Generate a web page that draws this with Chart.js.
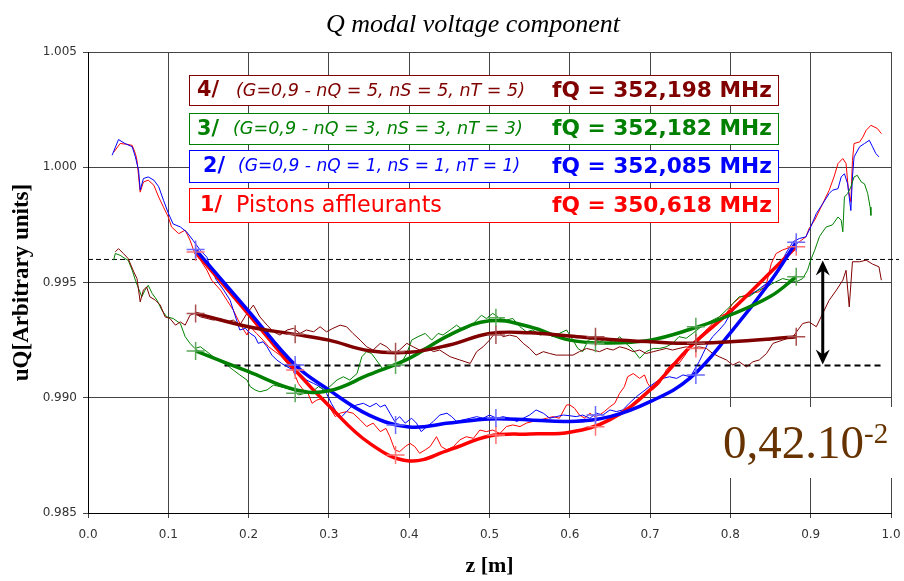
<!DOCTYPE html>
<html>
<head>
<meta charset="utf-8">
<script src="https://cdn.jsdelivr.net/npm/chart.js@4.4.0/dist/chart.umd.min.js"></script>
<style>
  html, body { margin: 0; padding: 0; background: #fff; }
  #wrap { width: 904px; height: 581px; }
</style>
</head>
<body>
<div id="wrap"><canvas id="modalChart" width="904" height="581"></canvas></div>
<script>
// --- Axes ---
const X_TICKS = [0, 0.1, 0.2, 0.3, 0.4, 0.5, 0.6, 0.7, 0.8, 0.9, 1.0];
const Y_TICKS = [0.985, 0.990, 0.995, 1.000, 1.005];

// --- Legend texts (top to bottom) ---
const CASE_TAGS = ["4/", "3/", "2/", "1/"];
const CASE_PARAMS = [
    "(G=0,9 - nQ = 5, nS = 5, nT = 5)",
    "(G=0,9 - nQ = 3, nS = 3, nT = 3)",
    "(G=0,9 - nQ = 1, nS = 1, nT = 1)",
    "Pistons affleurants",
];
const CASE_FREQS = ["fQ = 352,198 MHz", "fQ = 352,182 MHz", "fQ = 352,085 MHz", "fQ = 350,618 MHz"];
const CASE_COLORS = ["#800000", "#008000", "#0000ff", "#ff0000"];
const MARK_COLORS = ["#a85050", "#5aa85a", "#6a6aff", "#ff7272"];

// --- Measured profiles [z, uQ] ---
const meas1 = [[0.032,1.00065],[0.040,1.00103],[0.048,1.00100],[0.055,1.00095],[0.059,1.00060],[0.061,1.00030],[0.065,0.99892],[0.069,0.99936],[0.075,0.99944],[0.082,0.99922],[0.088,0.99871],[0.094,0.99827],[0.100,0.99784],[0.104,0.99741],[0.113,0.99712],[0.121,0.99727],[0.127,0.99684],[0.133,0.99626],[0.140,0.99597],[0.148,0.99554],[0.154,0.99510],[0.165,0.99467],[0.173,0.99423],[0.181,0.99380],[0.187,0.99337],[0.194,0.99294],[0.198,0.99272],[0.202,0.99308],[0.210,0.99279],[0.218,0.99250],[0.225,0.99221],[0.233,0.99200],[0.239,0.99185],[0.248,0.99149],[0.256,0.99113],[0.262,0.99062],[0.268,0.99034],[0.274,0.99019],[0.279,0.98976],[0.285,0.98990],[0.293,0.98998],[0.299,0.98969],[0.308,0.98918],[0.314,0.98933],[0.322,0.98940],[0.330,0.98933],[0.339,0.98904],[0.347,0.98875],[0.355,0.98890],[0.364,0.98853],[0.371,0.98867],[0.376,0.98831],[0.382,0.98774],[0.388,0.98766],[0.395,0.98788],[0.401,0.98802],[0.407,0.98788],[0.413,0.98759],[0.420,0.98774],[0.426,0.98788],[0.434,0.98831],[0.440,0.98788],[0.447,0.98774],[0.455,0.98788],[0.463,0.98817],[0.471,0.98831],[0.480,0.98824],[0.488,0.98860],[0.496,0.98853],[0.504,0.98860],[0.513,0.98845],[0.521,0.98875],[0.529,0.98882],[0.538,0.98875],[0.546,0.98890],[0.554,0.98897],[0.563,0.98904],[0.571,0.98911],[0.579,0.98918],[0.587,0.98911],[0.596,0.98969],[0.600,0.98969],[0.606,0.98954],[0.612,0.98925],[0.619,0.98911],[0.625,0.98933],[0.631,0.98918],[0.637,0.98925],[0.643,0.98940],[0.650,0.98961],[0.656,0.98976],[0.662,0.99019],[0.668,0.99048],[0.672,0.99091],[0.679,0.99105],[0.687,0.99084],[0.693,0.99099],[0.697,0.99062],[0.703,0.99034],[0.712,0.99062],[0.720,0.99120],[0.728,0.99149],[0.736,0.99149],[0.745,0.99192],[0.753,0.99236],[0.761,0.99265],[0.770,0.99294],[0.778,0.99322],[0.786,0.99351],[0.795,0.99366],[0.803,0.99409],[0.813,0.99438],[0.824,0.99452],[0.836,0.99460],[0.845,0.99496],[0.851,0.99583],[0.857,0.99626],[0.865,0.99641],[0.876,0.99655],[0.886,0.99677],[0.894,0.99698],[0.898,0.99734],[0.905,0.99771],[0.911,0.99814],[0.917,0.99857],[0.923,0.99900],[0.929,0.99958],[0.934,1.00016],[0.940,1.00038],[0.944,1.00016],[0.947,0.99900],[0.950,0.99850],[0.952,1.00030],[0.954,1.00103],[0.961,1.00110],[0.965,1.00131],[0.969,1.00160],[0.975,1.00182],[0.979,1.00175],[0.983,1.00168],[0.988,1.00146]];

const meas2 = [[0.030,1.00052],[0.038,1.00120],[0.046,1.00103],[0.055,1.00089],[0.059,1.00045],[0.063,0.99987],[0.065,0.99901],[0.069,0.99951],[0.075,0.99958],[0.082,0.99944],[0.088,0.99916],[0.094,0.99857],[0.100,0.99801],[0.106,0.99754],[0.115,0.99741],[0.123,0.99719],[0.131,0.99682],[0.140,0.99639],[0.148,0.99610],[0.152,0.99567],[0.160,0.99510],[0.169,0.99467],[0.177,0.99423],[0.181,0.99380],[0.185,0.99337],[0.189,0.99294],[0.196,0.99301],[0.202,0.99279],[0.208,0.99265],[0.212,0.99236],[0.218,0.99243],[0.223,0.99221],[0.229,0.99185],[0.235,0.99164],[0.241,0.99149],[0.248,0.99134],[0.256,0.99120],[0.264,0.99105],[0.272,0.99077],[0.281,0.99062],[0.289,0.99048],[0.297,0.99019],[0.303,0.98976],[0.310,0.98933],[0.316,0.98918],[0.322,0.98940],[0.328,0.98961],[0.335,0.98969],[0.343,0.98976],[0.351,0.98961],[0.359,0.98976],[0.364,0.98960],[0.370,0.98969],[0.376,0.98933],[0.382,0.98897],[0.388,0.98918],[0.395,0.98890],[0.403,0.98911],[0.409,0.98890],[0.415,0.98853],[0.422,0.98875],[0.430,0.98897],[0.438,0.98925],[0.447,0.98933],[0.453,0.98918],[0.459,0.98897],[0.467,0.98904],[0.476,0.98911],[0.484,0.98918],[0.492,0.98911],[0.500,0.98925],[0.509,0.98911],[0.517,0.98918],[0.525,0.98911],[0.534,0.98897],[0.542,0.98911],[0.550,0.98925],[0.558,0.98947],[0.567,0.98933],[0.575,0.98911],[0.583,0.98918],[0.592,0.98925],[0.600,0.98922],[0.608,0.98918],[0.616,0.98925],[0.625,0.98911],[0.633,0.98933],[0.641,0.98925],[0.650,0.98947],[0.658,0.98940],[0.666,0.98947],[0.674,0.98976],[0.683,0.99005],[0.691,0.99026],[0.699,0.99048],[0.708,0.99070],[0.716,0.99084],[0.724,0.99091],[0.733,0.99084],[0.741,0.99099],[0.750,0.99091],[0.755,0.99120],[0.761,0.99156],[0.766,0.99192],[0.772,0.99236],[0.778,0.99265],[0.786,0.99294],[0.793,0.99322],[0.799,0.99358],[0.807,0.99394],[0.815,0.99423],[0.824,0.99445],[0.834,0.99467],[0.845,0.99496],[0.853,0.99524],[0.861,0.99567],[0.869,0.99626],[0.878,0.99677],[0.886,0.99691],[0.894,0.99698],[0.900,0.99741],[0.907,0.99799],[0.915,0.99842],[0.923,0.99886],[0.927,0.99900],[0.934,0.99907],[0.938,0.99958],[0.942,0.99972],[0.946,0.99928],[0.950,0.99812],[0.952,0.99958],[0.954,1.00045],[0.961,1.00089],[0.967,1.00103],[0.973,1.00117],[0.977,1.00089],[0.981,1.00060],[0.985,1.00045]];

const meas3 = [[0.032,0.99597],[0.034,0.99626],[0.040,0.99618],[0.046,0.99604],[0.050,0.99597],[0.055,0.99554],[0.059,0.99510],[0.063,0.99474],[0.067,0.99438],[0.071,0.99467],[0.075,0.99488],[0.080,0.99452],[0.086,0.99423],[0.092,0.99380],[0.098,0.99351],[0.106,0.99344],[0.115,0.99322],[0.121,0.99265],[0.127,0.99236],[0.133,0.99214],[0.140,0.99221],[0.148,0.99200],[0.156,0.99178],[0.165,0.99156],[0.173,0.99142],[0.181,0.99120],[0.189,0.99099],[0.198,0.99077],[0.202,0.99048],[0.208,0.99034],[0.214,0.99026],[0.223,0.99034],[0.231,0.99055],[0.239,0.99048],[0.248,0.99041],[0.256,0.99034],[0.262,0.99012],[0.270,0.99019],[0.279,0.99026],[0.287,0.99048],[0.295,0.99034],[0.301,0.99048],[0.310,0.99077],[0.318,0.99091],[0.326,0.99077],[0.335,0.99105],[0.341,0.99178],[0.347,0.99200],[0.353,0.99192],[0.359,0.99164],[0.368,0.99120],[0.376,0.99134],[0.384,0.99149],[0.391,0.99156],[0.397,0.99192],[0.403,0.99250],[0.411,0.99265],[0.420,0.99279],[0.428,0.99250],[0.436,0.99279],[0.442,0.99272],[0.451,0.99294],[0.459,0.99315],[0.467,0.99294],[0.476,0.99308],[0.484,0.99337],[0.490,0.99358],[0.496,0.99344],[0.504,0.99366],[0.513,0.99344],[0.521,0.99337],[0.529,0.99344],[0.538,0.99308],[0.546,0.99286],[0.554,0.99294],[0.563,0.99272],[0.571,0.99279],[0.579,0.99265],[0.587,0.99279],[0.596,0.99294],[0.604,0.99250],[0.610,0.99214],[0.616,0.99200],[0.623,0.99250],[0.629,0.99257],[0.637,0.99243],[0.646,0.99257],[0.654,0.99236],[0.662,0.99265],[0.670,0.99236],[0.679,0.99207],[0.687,0.99171],[0.695,0.99200],[0.704,0.99214],[0.712,0.99214],[0.720,0.99221],[0.728,0.99236],[0.736,0.99265],[0.745,0.99258],[0.753,0.99279],[0.761,0.99301],[0.770,0.99322],[0.778,0.99337],[0.786,0.99351],[0.795,0.99380],[0.803,0.99409],[0.811,0.99438],[0.824,0.99440],[0.834,0.99465],[0.845,0.99481],[0.855,0.99500],[0.865,0.99517],[0.874,0.99510],[0.882,0.99503],[0.890,0.99517],[0.896,0.99553],[0.900,0.99597],[0.905,0.99640],[0.911,0.99700],[0.919,0.99740],[0.927,0.99750],[0.934,0.99784],[0.938,0.99770],[0.940,0.99720],[0.942,0.99871],[0.946,0.99886],[0.950,0.99914],[0.954,0.99958],[0.958,0.99965],[0.963,0.99936],[0.967,0.99928],[0.971,0.99886],[0.974,0.99827],[0.975,0.99791]];

const meas4 = [[0.034,0.99633],[0.038,0.99647],[0.044,0.99626],[0.050,0.99604],[0.057,0.99546],[0.061,0.99517],[0.065,0.99416],[0.069,0.99467],[0.073,0.99481],[0.077,0.99438],[0.084,0.99423],[0.090,0.99402],[0.096,0.99351],[0.102,0.99344],[0.109,0.99315],[0.115,0.99329],[0.121,0.99315],[0.127,0.99358],[0.133,0.99366],[0.140,0.99351],[0.148,0.99344],[0.156,0.99337],[0.165,0.99344],[0.173,0.99329],[0.181,0.99337],[0.189,0.99315],[0.198,0.99366],[0.206,0.99402],[0.214,0.99351],[0.223,0.99315],[0.231,0.99286],[0.239,0.99272],[0.248,0.99294],[0.256,0.99301],[0.264,0.99279],[0.272,0.99294],[0.281,0.99286],[0.289,0.99308],[0.297,0.99286],[0.305,0.99301],[0.314,0.99315],[0.322,0.99308],[0.330,0.99279],[0.339,0.99250],[0.347,0.99221],[0.355,0.99207],[0.364,0.99236],[0.372,0.99221],[0.380,0.99192],[0.388,0.99207],[0.397,0.99236],[0.405,0.99221],[0.413,0.99207],[0.422,0.99221],[0.430,0.99200],[0.438,0.99207],[0.451,0.99178],[0.463,0.99164],[0.476,0.99149],[0.484,0.99200],[0.492,0.99221],[0.500,0.99250],[0.509,0.99290],[0.517,0.99265],[0.525,0.99272],[0.534,0.99265],[0.542,0.99236],[0.550,0.99214],[0.558,0.99185],[0.567,0.99200],[0.575,0.99192],[0.583,0.99185],[0.596,0.99185],[0.604,0.99185],[0.612,0.99200],[0.621,0.99214],[0.629,0.99207],[0.637,0.99200],[0.646,0.99214],[0.654,0.99207],[0.662,0.99221],[0.670,0.99214],[0.679,0.99200],[0.687,0.99207],[0.695,0.99192],[0.704,0.99200],[0.712,0.99207],[0.720,0.99214],[0.728,0.99207],[0.736,0.99214],[0.745,0.99221],[0.753,0.99214],[0.761,0.99221],[0.770,0.99214],[0.778,0.99192],[0.786,0.99178],[0.795,0.99164],[0.803,0.99142],[0.811,0.99156],[0.820,0.99134],[0.828,0.99156],[0.836,0.99164],[0.845,0.99192],[0.853,0.99236],[0.865,0.99250],[0.878,0.99265],[0.890,0.99322],[0.898,0.99329],[0.907,0.99308],[0.915,0.99366],[0.923,0.99423],[0.932,0.99467],[0.940,0.99510],[0.944,0.99553],[0.948,0.99394],[0.952,0.99590],[0.961,0.99590],[0.969,0.99597],[0.977,0.99580],[0.985,0.99568],[0.988,0.99510]];

// --- Smoothed fits (shared z grid) ---
const FIT_Z = [0.134, 0.2, 0.258, 0.3, 0.35, 0.4, 0.45, 0.5, 0.55, 0.6, 0.65, 0.7, 0.75, 0.8, 0.85, 0.882];
const fit1 = [0.99632, 0.99362, 0.99120, 0.98965, 0.98804, 0.98726, 0.98774, 0.98834, 0.98843, 0.98850, 0.98905, 0.99034, 0.99221, 0.99375, 0.99545, 0.99655];
const fit2 = [0.99643, 0.99376, 0.99142, 0.99034, 0.98925, 0.98873, 0.98890, 0.98908, 0.98904, 0.98897, 0.98918, 0.98983, 0.99086, 0.99281, 0.99505, 0.99675];
const fit3 = [0.99203, 0.99113, 0.99035, 0.99030, 0.99100, 0.99171, 0.99272, 0.99334, 0.99308, 0.99250, 0.99237, 0.99250, 0.99297, 0.99359, 0.99440, 0.99525];
const fit4 = [0.99366, 0.99308, 0.99275, 0.99250, 0.99204, 0.99197, 0.99229, 0.99279, 0.99282, 0.99268, 0.99253, 0.99243, 0.99236, 0.99243, 0.99255, 0.99265];

// --- Fit nodes (+ markers) ---
const MARK_Z = [0.134, 0.258, 0.383, 0.508, 0.632, 0.757, 0.882];
const marks1 = [0.99632, 0.99120, 0.98752, 0.98838, 0.98874, 0.99214, 0.99655];
const marks2 = [0.99643, 0.99142, 0.98882, 0.98912, 0.98925, 0.99099, 0.99675];
const marks3 = [0.99203, 0.99019, 0.99142, 0.99347, 0.99236, 0.99308, 0.99525];
const marks4 = [0.99366, 0.99275, 0.99200, 0.99272, 0.99265, 0.99236, 0.99265];

// --- Spread reference levels ---
const LEVEL_HIGH = 0.996;
const LEVEL_HIGH_Z = [0, 1.01];
const LEVEL_LOW = 0.9914;
const LEVEL_LOW_Z = [0.17, 0.988];
const ARROW_Z = 0.915;
const SPREAD_TEXT = "0,42.10";
const SPREAD_EXP = "-2";

// --- Datasets (index 0 = case 4 ... index 3 = case 1) ---
const measSets = [meas4, meas3, meas2, meas1];
const fitSets = [fit4, fit3, fit2, fit1];
const markSets = [marks4, marks3, marks2, marks1];

const datasets = [];
measSets.forEach((m, i) => {
    datasets.push({
        data: m.map(([x, y]) => ({ x, y })),
        borderColor: CASE_COLORS[i],
        borderWidth: 1,
        pointRadius: 0,
        tension: 0,
        order: 3,
    });
});
fitSets.forEach((f, i) => {
    datasets.push({
        data: FIT_Z.map((x, k) => ({ x, y: f[k] })),
        borderColor: CASE_COLORS[i],
        borderWidth: 3.5,
        pointRadius: 0,
        tension: 0.4,
        order: 1,
    });
});
markSets.forEach((mk, i) => {
    datasets.push({
        data: MARK_Z.map((x, k) => ({ x, y: mk[k] })),
        showLine: false,
        pointStyle: "cross",
        pointRadius: 9,
        pointBorderWidth: 1.5,
        pointBorderColor: MARK_COLORS[i],
        borderColor: MARK_COLORS[i],
        order: 0,
    });
});
datasets.push({
    data: LEVEL_HIGH_Z.map((x) => ({ x, y: LEVEL_HIGH })),
    borderColor: "#000",
    borderWidth: 1,
    borderDash: [5, 3],
    pointRadius: 0,
    clip: false,
    order: 4,
});
datasets.push({
    data: LEVEL_LOW_Z.map((x) => ({ x, y: LEVEL_LOW })),
    borderColor: "#000",
    borderWidth: 2,
    borderDash: [6, 4],
    pointRadius: 0,
    order: 4,
});

// --- Overlay: title, legend boxes, arrow, spread label ---
function fitFont(ctx, text, style, family, width) {
    ctx.font = `${style} 20px ${family}`;
    const size = (20 * width) / ctx.measureText(text).width;
    ctx.font = `${style} ${size.toFixed(2)}px ${family}`;
}

const overlay = {
    id: "overlay",
    afterDraw(chart) {
        const { ctx } = chart;
        const xs = chart.scales.x;
        const ys = chart.scales.y;
        ctx.save();

        // title
        ctx.fillStyle = "#000";
        ctx.textAlign = "center";
        ctx.textBaseline = "alphabetic";
        ctx.font = "italic 26px 'Liberation Serif'";
        ctx.fillText("Q modal voltage component", 473, 32);

        // double arrow
        const ax = xs.getPixelForValue(ARROW_Z);
        const aTop = ys.getPixelForValue(LEVEL_HIGH) + 1;
        const aBot = ys.getPixelForValue(LEVEL_LOW) - 1;
        ctx.strokeStyle = "#000";
        ctx.fillStyle = "#000";
        ctx.lineWidth = 3;
        ctx.beginPath();
        ctx.moveTo(ax, aTop + 8);
        ctx.lineTo(ax, aBot - 8);
        ctx.stroke();
        [[aTop, 1], [aBot, -1]].forEach(([tip, dir]) => {
            ctx.beginPath();
            ctx.moveTo(ax, tip);
            ctx.lineTo(ax + 7, tip + dir * 15);
            ctx.lineTo(ax, tip + dir * 10);
            ctx.lineTo(ax - 7, tip + dir * 15);
            ctx.closePath();
            ctx.fill();
        });

        // legend boxes
        const boxes = [[189, 75, 589, 30], [189, 113, 589, 31], [189, 150, 589, 32], [189, 188, 589, 34]];
        const tagX = [197, 197, 203, 200];
        const paramX = [236, 233, 238, 236];
        const paramW = [289, 290, 282, 206];
        ctx.textAlign = "left";
        ctx.textBaseline = "middle";
        boxes.forEach(([bx, by, bw, bh], i) => {
            ctx.fillStyle = "#fff";
            ctx.fillRect(bx, by, bw, bh);
            ctx.strokeStyle = CASE_COLORS[i];
            ctx.lineWidth = 1;
            ctx.strokeRect(bx + 0.5, by + 0.5, bw, bh);
            const cy = by + bh / 2 + 1;
            ctx.fillStyle = CASE_COLORS[i];
            fitFont(ctx, CASE_TAGS[i], "bold", "'DejaVu Sans'", 22);
            ctx.fillText(CASE_TAGS[i], tagX[i], cy);
            fitFont(ctx, CASE_PARAMS[i], i === 3 ? "normal" : "italic", "'DejaVu Sans'", paramW[i]);
            ctx.fillText(CASE_PARAMS[i], paramX[i], cy);
            fitFont(ctx, CASE_FREQS[i], "bold", "'DejaVu Sans'", 220);
            ctx.fillText(CASE_FREQS[i], 552, cy);
        });

        // spread label
        ctx.fillStyle = "#fff";
        ctx.fillRect(715, 407, 184, 71);
        ctx.fillStyle = "#663300";
        ctx.textBaseline = "alphabetic";
        ctx.font = "47px 'Liberation Serif'";
        ctx.fillText(SPREAD_TEXT, 723, 458);
        const w = ctx.measureText(SPREAD_TEXT).width;
        ctx.font = "29px 'Liberation Serif'";
        ctx.fillText(SPREAD_EXP, 723 + w, 443);

        ctx.restore();
    },
};

// --- Chart ---
new Chart(document.getElementById("modalChart"), {
    type: "line",
    data: { datasets },
    options: {
        responsive: false,
        devicePixelRatio: 1,
        animation: false,
        layout: { padding: { top: 52, right: 13, left: 0, bottom: 0 } },
        plugins: { legend: { display: false }, tooltip: { enabled: false } },
        scales: {
            x: {
                type: "linear",
                min: 0,
                max: 1,
                afterBuildTicks: (s) => { s.ticks = X_TICKS.map((v) => ({ value: v })); },
                afterFit: (s) => { s.height = 68; s.paddingLeft = 0; s.paddingRight = 0; },
                ticks: {
                    callback: (v) => v.toFixed(1),
                    color: "#333",
                    font: { family: "'DejaVu Sans'", size: 12 },
                    padding: 10,
                    maxRotation: 0,
                },
                grid: { color: "#444", tickLength: 5 },
                border: { color: "#000" },
                title: {
                    display: true,
                    text: "z [m]",
                    color: "#000",
                    font: { family: "'Liberation Serif'", size: 22, weight: "bold" },
                    padding: { top: 0, bottom: 1 },
                },
            },
            y: {
                min: 0.985,
                max: 1.005,
                afterBuildTicks: (s) => { s.ticks = Y_TICKS.map((v) => ({ value: v })); },
                afterFit: (s) => { s.width = 88; s.paddingTop = 0; s.paddingBottom = 0; },
                ticks: {
                    callback: (v) => v.toFixed(3),
                    color: "#333",
                    font: { family: "'DejaVu Sans'", size: 12 },
                    padding: 6,
                },
                grid: { color: "#444", tickLength: 5 },
                border: { color: "#000" },
                title: {
                    display: true,
                    text: "uQ[Arbitrary units]",
                    color: "#000",
                    font: { family: "'Liberation Serif'", size: 23, weight: "bold" },
                    padding: { top: 8, bottom: 0 },
                },
            },
        },
    },
    plugins: [overlay],
});
</script>
</body>
</html>
